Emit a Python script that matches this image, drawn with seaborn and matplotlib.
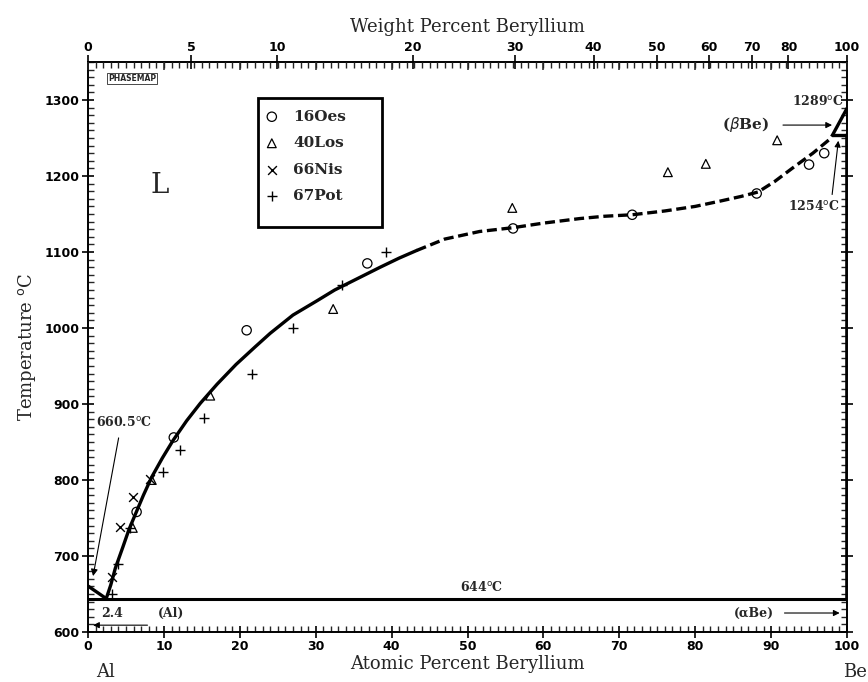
import matplotlib
matplotlib.use("Agg")
import matplotlib.pyplot as plt
import seaborn as sns
from matplotlib.patches import Rectangle
from matplotlib.ticker import MultipleLocator, FixedLocator, NullFormatter

# ---------------- data ----------------
# experimental liquidus points: atomic percent Be, temperature (deg C)
oes_x = [6.4, 11.3, 20.9, 36.8, 56.0, 71.7, 88.1, 95.0, 97.0]
oes_t = [758, 856, 997, 1085, 1131, 1149, 1177, 1215, 1230]
los_x = [5.9, 8.4, 16.1, 32.3, 55.9, 76.4, 81.4, 90.8]
los_t = [737, 800, 911, 1025, 1158, 1205, 1216, 1247]
nis_x = [3.1, 4.2, 5.9, 8.2]
nis_t = [672, 738, 777, 801]
pot_x = [3.2, 4.0, 5.5, 9.9, 12.1, 15.3, 21.6, 27.0, 33.5, 39.3]
pot_t = [650, 689, 737, 810, 840, 881, 940, 1000, 1056, 1100]
series_labels = ["16Oes", "40Los", "66Nis", "67Pot"]

# assessed liquidus (solid part)
liq_solid_x = [2.4, 3.0, 3.6, 4.6, 5.4, 6.2, 7.3, 8.4, 9.8, 11.2, 13.0, 14.8, 17.0,
               19.5, 22.0, 24.0, 27.0, 30.2, 32.5, 34.9, 38.5, 41.0, 43.3]
liq_solid_t = [644, 662, 684, 712, 735, 754, 780, 804, 829, 852, 878, 901, 926,
               952, 975, 993, 1017, 1036, 1050, 1062, 1080, 1092, 1102]
# assessed liquidus (dashed part)
liq_dash_x = [43.3, 47.0, 51.6, 56.0, 60.0, 64.8, 68.0, 71.7, 76.0, 80.0, 83.3,
              86.0, 88.3, 90.5, 92.9, 95.5, 97.8, 98.1]
liq_dash_t = [1102, 1117, 1127, 1132, 1138, 1144, 1147, 1149, 1154, 1160, 1167,
              1173, 1179, 1193, 1211, 1230, 1249, 1254]
# Al-side liquidus
liq_al_x = [0.0, 2.4]
liq_al_t = [660.5, 644]
# eutectic line
eut_x = [0.0, 100.0]
eut_t = [644, 644]
# (alpha Be) / (beta Be) boundaries
abe_x = [100.0, 100.0]
abe_t = [644, 1254]
bbe_liq_x = [98.1, 100.0]
bbe_liq_t = [1254, 1289]
bbe_sol_x = [98.1, 100.0]
bbe_sol_t = [1254, 1254]

wt_tick_labels = [0, 5, 10, 20, 30, 40, 50, 60, 70, 80, 100]
at_tick_labels = [0, 10, 20, 30, 40, 50, 60, 70, 80, 90, 100]
t_tick_labels = [600, 700, 800, 900, 1000, 1100, 1200, 1300]

# ---------------- figure ----------------
sns.set_theme(style="white")
plt.rcParams["font.family"] = ["DejaVu Serif"]
plt.rcParams["axes.linewidth"] = 1.4

fig = plt.figure(figsize=(8.68, 6.82), dpi=100)
ax = fig.add_axes([0.1014, 0.0733, 0.8744, 0.8358])

lw_main = 2.4
sns.lineplot(x=liq_solid_x, y=liq_solid_t, sort=False, estimator=None, color="black",
             lw=lw_main, ax=ax)
sns.lineplot(x=liq_dash_x, y=liq_dash_t, sort=False, estimator=None, color="black",
             lw=lw_main, linestyle=(0, (3.0, 1.4)), ax=ax)
for xs, ts, lw in [(liq_al_x, liq_al_t, lw_main), (eut_x, eut_t, 2.2), (abe_x, abe_t, 2.6),
                   (bbe_liq_x, bbe_liq_t, lw_main), (bbe_sol_x, bbe_sol_t, lw_main)]:
    sns.lineplot(x=xs, y=ts, sort=False, estimator=None, color="black", lw=lw, ax=ax)

sns.scatterplot(x=oes_x, y=oes_t, marker="o", s=45, facecolor="none", edgecolor="black",
                linewidth=0.9, label=series_labels[0], ax=ax, zorder=5)
sns.scatterplot(x=los_x, y=los_t, marker="^", s=40, facecolor="none", edgecolor="black",
                linewidth=0.9, label=series_labels[1], ax=ax, zorder=5)
sns.scatterplot(x=nis_x, y=nis_t, marker="x", s=40, color="black",
                linewidth=1.0, label=series_labels[2], ax=ax, zorder=5)
sns.scatterplot(x=pot_x, y=pot_t, marker="+", s=45, color="black",
                linewidth=1.0, label=series_labels[3], ax=ax, zorder=5)

ax.set_xlim(0, 100)
ax.set_ylim(600, 1350)

# legend box
handles, labels = ax.get_legend_handles_labels()
leg = ax.legend(handles, labels, frameon=False, loc="upper left",
                bbox_to_anchor=(0.218, 0.935), borderpad=0.2, handlelength=1.0,
                handletextpad=0.9, labelspacing=0.82,
                prop={"family": "DejaVu Serif", "size": 11, "weight": "bold"})
ax.add_patch(Rectangle((0.224, 0.711), 0.163, 0.226, transform=ax.transAxes,
                       fill=False, lw=2.0, ec="black", zorder=6))

# ticks
tick_font = {"family": "DejaVu Sans", "weight": "bold", "size": 9}
ax.xaxis.set_major_locator(FixedLocator(at_tick_labels))
ax.set_xticklabels([str(v) for v in at_tick_labels], fontdict=tick_font)
ax.xaxis.set_minor_locator(MultipleLocator(1))
ax.yaxis.set_major_locator(FixedLocator(t_tick_labels))
ax.set_yticklabels([str(v) for v in t_tick_labels], fontdict=tick_font)
ax.yaxis.set_minor_locator(MultipleLocator(10))
ax.tick_params(which="major", direction="inout", length=8, width=1.2, pad=2,
               bottom=True, left=True, right=True, top=False, colors="black")
ax.tick_params(which="minor", direction="in", length=4, width=1.0,
               bottom=True, left=True, right=True, top=False)
ax.tick_params(axis="y", which="both", right=True)
for s in ax.spines.values():
    s.set_color("black")

# top axis: weight percent Be
m_al, m_be = 26.98, 9.012
wt_pos = [(w / m_be) / (w / m_be + (100 - w) / m_al) * 100 for w in wt_tick_labels]
ax2 = ax.twiny()
ax2.set_xlim(0, 100)
ax2.xaxis.set_major_locator(FixedLocator(wt_pos))
ax2.set_xticklabels([str(v) for v in wt_tick_labels], fontdict=tick_font)
ax2.xaxis.set_minor_locator(MultipleLocator(1))
ax2.tick_params(which="major", direction="inout", length=10, width=1.2, pad=1, colors="black")
ax2.tick_params(which="minor", direction="in", length=4, width=1.0)
ax3 = ax.twiny()
ax3.set_xlim(0, 100)
ax3.xaxis.set_major_locator(MultipleLocator(10))
ax3.xaxis.set_major_formatter(NullFormatter())
ax3.tick_params(which="major", direction="in", length=6, width=1.1)
for a in (ax2, ax3):
    for s in a.spines.values():
        s.set_visible(False)

# axis labels
lab_font = {"family": "DejaVu Serif", "size": 13}
ax2.set_xlabel("Weight Percent Beryllium", fontdict=lab_font, labelpad=6)
ax.set_xlabel("Atomic Percent Beryllium", fontdict=lab_font, labelpad=1)
ax.set_ylabel("Temperature $^{\\rm o}$C", fontdict=lab_font, labelpad=5)
ax.text(2.3, 547, "Al", fontsize=13, ha="center", va="center", family="DejaVu Serif",
        clip_on=False)
ax.text(102.6, 547, "Be", fontsize=13, ha="right", va="center", family="DejaVu Serif",
        clip_on=False)

# annotations
ann = {"family": "DejaVu Serif", "size": 9, "weight": "bold"}
ax.text(9.5, 1187, "L", fontsize=20, ha="center", va="center", family="DejaVu Serif")
ax.text(5.8, 1328, "PHASEMAP", fontsize=5.5, weight="bold", family="DejaVu Sans",
        ha="center", va="center",
        bbox=dict(boxstyle="square,pad=0.15", fc="white", ec="black", lw=0.5))
ax.text(4.8, 876, "660.5$^{\\rm o}$C", ha="center", va="center", fontdict=ann)
ax.annotate("", xy=(0.6, 670), xytext=(4.1, 859),
            arrowprops=dict(arrowstyle="-|>", lw=0.8, color="black", mutation_scale=10))
ax.text(51.9, 659, "644$^{\\rm o}$C", ha="center", va="center", fontdict=ann)
ax.text(3.2, 625, "2.4", ha="center", va="center", fontdict=ann)
ax.text(10.9, 625, "(Al)", ha="center", va="center", fontdict=ann)
ax.annotate("", xy=(0.3, 609), xytext=(8.2, 609),
            arrowprops=dict(arrowstyle="-|>", lw=0.8, color="black", mutation_scale=9))
ax.text(87.7, 625, "(\u03b1Be)", ha="center", va="center", fontdict=ann)
ax.annotate("", xy=(99.4, 625), xytext=(91.4, 625),
            arrowprops=dict(arrowstyle="-|>", lw=0.8, color="black", mutation_scale=9))
ax.text(96.2, 1299, "1289$^{\\rm o}$C", ha="center", va="center", fontdict=ann)
ax.text(86.6, 1268, "($\\beta$Be)", ha="center", va="center",
        family="DejaVu Serif", size=11, weight="bold")
ax.annotate("", xy=(98.4, 1267), xytext=(91.2, 1267),
            arrowprops=dict(arrowstyle="-|>", lw=0.8, color="black", mutation_scale=9))
ax.text(95.7, 1161, "1254$^{\\rm o}$C", ha="center", va="center", fontdict=ann)
ax.annotate("", xy=(98.9, 1250), xytext=(98.0, 1172),
            arrowprops=dict(arrowstyle="-|>", lw=0.8, color="black", mutation_scale=9))

fig.savefig("out.png", dpi=100)
